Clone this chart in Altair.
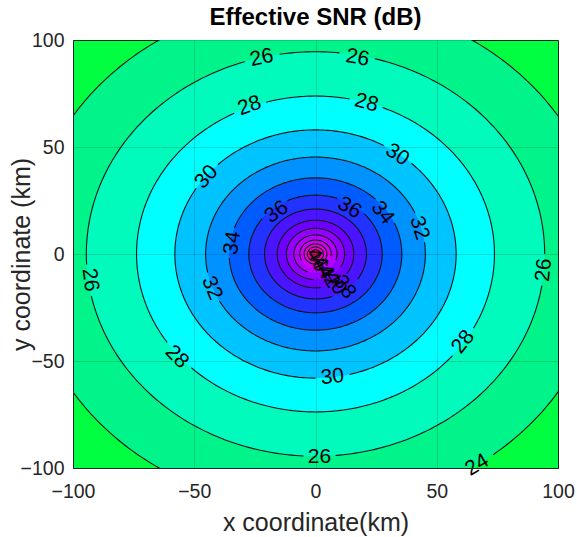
import numpy as np
import pandas as pd
import altair as alt

# contour levels (dB) and their radius (km)
levels = [24, 26, 28, 30, 32, 34, 36, 38, 40, 42, 44, 46, 48, 50, 52]
radii = [119.0, 94.5, 73.8, 58.0, 45.3, 35.6, 27.5, 21.0, 15.8, 12.0, 8.9, 6.5, 4.7, 3.3, 2.0]
# fill colour below the first level, then above each level
band_colors = ["#00ff40", "#00f48a", "#00fbbc", "#00ffff", "#00c4ff", "#0092ff",
               "#005cff", "#2232ff", "#4a14ff", "#6e00ff", "#9200ff", "#b400ff",
               "#d000f4", "#e600e0", "#f200c8", "#c8005a"]

# contour labels
lab_level = [26, 26, 28, 28, 30, 30, 30, 32, 32, 34, 34, 36, 36, 26, 26, 28, 28, 26, 24,
             46, 44, 42, 40, 38]
lab_x = [-22.2, 17.3, -27.2, 21.0, -44.9, 33.7, 7.0, -42.8, 42.8, -34.2, 27.6, -16.0, 14.0,
         -93.0, 94.2, -57.2, 60.9, 1.6, 66.7, 0.4, 2.9, 5.3, 8.2, 11.9]
lab_y = [91.6, 91.6, 69.2, 70.6, 36.0, 46.3, -57.5, -15.9, 12.1, 5.1, 19.2, 19.6, 21.5,
         -12.1, -7.5, -48.1, -41.1, -94.9, -98.6, -2.8, -6.5, -10.3, -13.6, -15.4]
lab_angle = [348, 10, 341, 15, 312, 33, 354, 67, 72, 279, 52, 324, 30,
             82, 276, 46, 308, 0, 329, 60, 60, 60, 60, 55]

W, H = 485, 428
SX, SY = W / 200.0, H / 200.0

labels = pd.DataFrame({"level": lab_level, "x": lab_x, "y": lab_y, "angle": lab_angle,
                       "text": [str(v) for v in lab_level]})

xs = alt.Scale(domain=[-100, 100], nice=False, zero=False)
ys = alt.Scale(domain=[-100, 100], nice=False, zero=False)

layers = []
for i, (lev, r) in enumerate(zip(levels, radii)):
    t = np.deg2rad(np.arange(0, 180.5, 1.0))
    d = pd.DataFrame({"x": r * np.cos(t), "y": r * np.sin(t), "y2": -r * np.sin(t)})
    layers.append(
        alt.Chart(d).mark_area(color=band_colors[i + 1], clip=True, opacity=1,
                               strokeWidth=0).encode(
            x=alt.X("x:Q", scale=xs), y=alt.Y("y:Q", scale=ys), y2="y2:Q")
    )

# contour lines with gaps under labels
rows = []
seg = 0
for lev, r in zip(levels, radii):
    lx = labels[labels.level == lev]
    inseg = False
    for k, a in enumerate(np.deg2rad(np.arange(0, 360.5, 1.0))):
        x, y = r * np.cos(a), r * np.sin(a)
        gap = False
        for _, L in lx.iterrows():
            if np.hypot((x - L.x) * SX, (y - L.y) * SY) < 15:
                gap = True
        if gap:
            if inseg:
                seg += 1
            inseg = False
            continue
        inseg = True
        rows.append({"x": x, "y": y, "seg": seg, "i": k})
    seg += 1
lines = pd.DataFrame(rows)

line_layer = alt.Chart(lines).mark_line(color="#141414", strokeWidth=1.1, clip=True).encode(
    x=alt.X("x:Q", scale=xs), y=alt.Y("y:Q", scale=ys), detail="seg:N", order="i:Q")

text_layer = alt.Chart(labels).mark_text(font="Liberation Sans", fontSize=21, color="#000000",
                                          align="center", baseline="middle").encode(
    x=alt.X("x:Q", scale=xs), y=alt.Y("y:Q", scale=ys), text="text:N",
    angle=alt.Angle("angle:Q", scale=None))

ticks = [-100, -50, 0, 50, 100]
axis_common = dict(values=ticks, grid=True, gridColor="#000000", gridOpacity=0.15,
                   ticks=False, domain=True, domainColor="#262626",
                   labelFont="Liberation Sans", labelFontSize=19.5, labelColor="#262626",
                   titleFont="Liberation Sans", titleFontSize=25, titleFontWeight="normal",
                   titleColor="#262626", titleBaseline="middle", titleAlign="center",
                   zindex=1, labelFlush=False)

base = alt.layer(*layers, line_layer, text_layer).encode(
    x=alt.X("x:Q", scale=xs, axis=alt.Axis(title="x coordinate(km)", labelPadding=14,
                                           titleX=W / 2, titleY=54, **axis_common)),
    y=alt.Y("y:Q", scale=ys, axis=alt.Axis(title="y coordinate (km)", labelPadding=9,
                                           titleX=-52, titleY=H / 2, titleAngle=270,
                                           **axis_common)),
)

chart = base.properties(
    width=W, height=H,
    title=alt.TitleParams("Effective SNR (dB)", font="Liberation Sans", fontSize=24,
                          fontWeight="bold", color="#000000", offset=0),
    autosize=alt.AutoSizeParams(type="none"),
    padding={"left": 73, "top": 40, "right": 19, "bottom": 69},
).configure_view(fill=band_colors[0], stroke="#262626", strokeWidth=1)

chart.save("out.html", embed_options={"renderer": "svg", "actions": False})
